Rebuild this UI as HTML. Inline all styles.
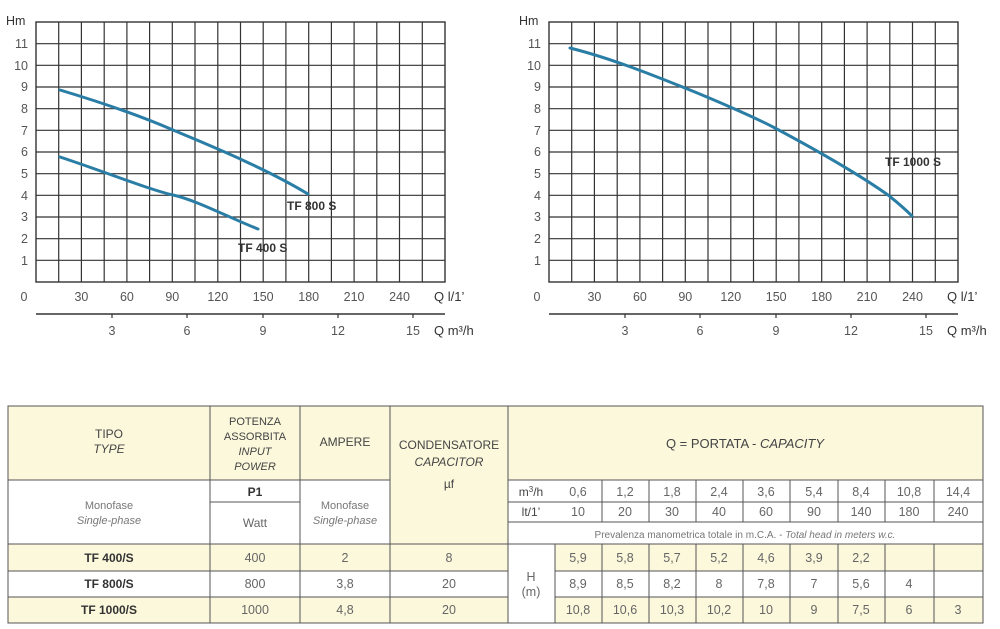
<!DOCTYPE html>
<html><head><meta charset="utf-8"><style>
body{margin:0;background:#fff;width:1000px;height:629px;overflow:hidden}
svg{display:block;font-family:"Liberation Sans",sans-serif}
.n{fill:#555;font-size:12.5px}
.b{fill:#333;font-size:12px;font-weight:bold}
.t{fill:#444;font-size:12px}
.tv{fill:#666;font-size:12.5px}
</style></head><body>
<svg width="1000" height="629" viewBox="0 0 1000 629">
<defs>
<g id="grid">
<rect x="0" y="0" width="409" height="260" fill="none" stroke="#333" stroke-width="1.4"/>
<path stroke="#333" stroke-width="1.2" d="M0 21.7H409M0 43.3H409M0 65H409M0 86.7H409M0 108.3H409M0 130H409M0 151.7H409M0 173.3H409M0 195H409M0 216.7H409M0 238.3H409
M22.7 0V260M45.4 0V260M68.2 0V260M90.9 0V260M113.6 0V260M136.3 0V260M159 0V260M181.8 0V260M204.5 0V260M227.2 0V260M249.9 0V260M272.7 0V260M295.4 0V260M318.1 0V260M340.8 0V260M363.5 0V260M386.3 0V260"/>
<g class="n" text-anchor="end">
<text x="-8" y="26">11</text><text x="-8" y="48">10</text><text x="-8" y="69">9</text><text x="-8" y="91">8</text><text x="-8" y="113">7</text><text x="-8" y="134">6</text><text x="-8" y="156">5</text><text x="-8" y="178">4</text><text x="-8" y="199">3</text><text x="-8" y="221">2</text><text x="-8" y="243">1</text>
</g>
<text x="-30" y="3" fill="#333" font-size="12.5">Hm</text>
<g class="n" text-anchor="middle">
<text x="-12" y="279">0</text><text x="45.4" y="279">30</text><text x="90.9" y="279">60</text><text x="136.3" y="279">90</text><text x="181.8" y="279">120</text><text x="227.2" y="279">150</text><text x="272.7" y="279">180</text><text x="318.1" y="279">210</text><text x="363.5" y="279">240</text>
</g>
<text x="398" y="279" fill="#333" font-size="13">Q l/1’</text>
<path d="M0 292H409" stroke="#333" stroke-width="1.4"/>
<path stroke="#333" stroke-width="1.2" d="M76 292v4M151 292v4M227 292v4M302 292v4M377 292v4"/>
<g class="n" text-anchor="middle"><text x="76" y="313">3</text><text x="151" y="313">6</text><text x="227" y="313">9</text><text x="302" y="313">12</text><text x="377" y="313">15</text></g>
<text x="398" y="313" fill="#333" font-size="13">Q m³/h</text>
</g>
</defs>
<g transform="translate(36,22)"><use href="#grid"/></g>
<g transform="translate(549,22)"><use href="#grid"/></g>
<g fill="none" stroke="#2a7ea6" stroke-width="3" stroke-linecap="round">
<path d="M60 90 C110 105 150 120 173 130 S 260 165 308 194"/>
<path d="M60 157 C100 170 150 190 173 195 S 230 218 258 229"/>
<path d="M570 48 C610 58 650 74 685 88 S 760 120 775 128 S 850 168 888 195 Q 902 206 912 216"/>
</g>
<text x="287" y="210" class="b">TF 800 S</text>
<text x="238" y="252" class="b">TF 400 S</text>
<text x="885" y="166" class="b">TF 1000 S</text>

<!-- table -->
<g stroke="#555" stroke-width="1">
<rect x="8" y="406" width="975" height="74" fill="#fbf8dc"/>
<rect x="8" y="480" width="202" height="64" fill="#fff"/>
<rect x="210" y="480" width="90" height="64" fill="#fff"/>
<rect x="300" y="480" width="90" height="64" fill="#fff"/>
<rect x="390" y="480" width="118" height="64" fill="#fbf8dc"/>
<rect x="508" y="480" width="475" height="64" fill="#fff"/>
<rect x="8" y="544" width="975" height="27" fill="#fbf8dc"/>
<rect x="8" y="571" width="975" height="26" fill="#fff"/>
<rect x="8" y="597" width="975" height="26" fill="#fbf8dc"/>
<rect x="508" y="544" width="47" height="79" fill="#fff"/>
</g>
<rect x="390.5" y="477" width="117" height="6" fill="#fbf8dc"/>
<path stroke="#555" stroke-width="1" fill="none" d="M210 406V623M300 406V623M390 406V623M508 406V623M210 502H300M508 502H983M508 522H983
M602 480V522M649 480V522M696 480V522M743 480V522M790 480V522M838 480V522M885 480V522M934 480V522
M602 544V623M649 544V623M696 544V623M743 544V623M790 544V623M838 544V623M885 544V623M934 544V623M508 480H983"/>
<g text-anchor="middle" class="t">
<text x="109" y="438">TIPO</text><text x="109" y="453" font-style="italic">TYPE</text>
<text x="255" y="425" font-size="11">POTENZA</text><text x="255" y="440" font-size="11">ASSORBITA</text><text x="255" y="455" font-size="11" font-style="italic">INPUT</text><text x="255" y="470" font-size="11" font-style="italic">POWER</text>
<text x="345" y="446">AMPERE</text>
<text x="449" y="449">CONDENSATORE</text><text x="449" y="466" font-style="italic">CAPACITOR</text>
<text x="449" y="488">µf</text>
<text x="745" y="448" font-size="13">Q = PORTATA - <tspan font-style="italic">CAPACITY</tspan></text>
<text x="109" y="509" font-size="11" fill="#777">Monofase</text><text x="109" y="524" font-size="11" font-style="italic" fill="#777">Single-phase</text>
<text x="255" y="496" font-weight="bold" fill="#333">P1</text>
<text x="255" y="527" fill="#666">Watt</text>
<text x="345" y="509" font-size="11" fill="#777">Monofase</text><text x="345" y="524" font-size="11" font-style="italic" fill="#777">Single-phase</text>
<text x="531" y="496">m<tspan font-size="8" dy="-4">3</tspan><tspan dy="4">/h</tspan></text>
<text x="531" y="516">lt/1’</text>
<text x="745" y="538" font-size="10" fill="#777">Prevalenza manometrica totale in m.C.A. - <tspan font-style="italic">Total head in meters w.c.</tspan></text>
<text x="109" y="562" class="b">TF 400/S</text><text x="109" y="588" class="b">TF 800/S</text><text x="109" y="614" class="b">TF 1000/S</text>
</g>
<g text-anchor="middle" class="tv">
<text x="255" y="562">400</text><text x="345" y="562">2</text><text x="449" y="562">8</text>
<text x="255" y="588">800</text><text x="345" y="588">3,8</text><text x="449" y="588">20</text>
<text x="255" y="614">1000</text><text x="345" y="614">4,8</text><text x="449" y="614">20</text>
<text x="531" y="581">H</text><text x="531" y="596">(m)</text>
</g>
<g text-anchor="middle" class="tv">
<text x="578" y="496">0,6</text><text x="625" y="496">1,2</text><text x="672" y="496">1,8</text><text x="719" y="496">2,4</text><text x="766" y="496">3,6</text><text x="814" y="496">5,4</text><text x="861" y="496">8,4</text><text x="909" y="496">10,8</text><text x="958" y="496">14,4</text>
<text x="578" y="516">10</text><text x="625" y="516">20</text><text x="672" y="516">30</text><text x="719" y="516">40</text><text x="766" y="516">60</text><text x="814" y="516">90</text><text x="861" y="516">140</text><text x="909" y="516">180</text><text x="958" y="516">240</text>
<text x="578" y="562">5,9</text><text x="625" y="562">5,8</text><text x="672" y="562">5,7</text><text x="719" y="562">5,2</text><text x="766" y="562">4,6</text><text x="814" y="562">3,9</text><text x="861" y="562">2,2</text>
<text x="578" y="588">8,9</text><text x="625" y="588">8,5</text><text x="672" y="588">8,2</text><text x="719" y="588">8</text><text x="766" y="588">7,8</text><text x="814" y="588">7</text><text x="861" y="588">5,6</text><text x="909" y="588">4</text>
<text x="578" y="614">10,8</text><text x="625" y="614">10,6</text><text x="672" y="614">10,3</text><text x="719" y="614">10,2</text><text x="766" y="614">10</text><text x="814" y="614">9</text><text x="861" y="614">7,5</text><text x="909" y="614">6</text><text x="958" y="614">3</text>
</g>
</svg>
</body></html>
